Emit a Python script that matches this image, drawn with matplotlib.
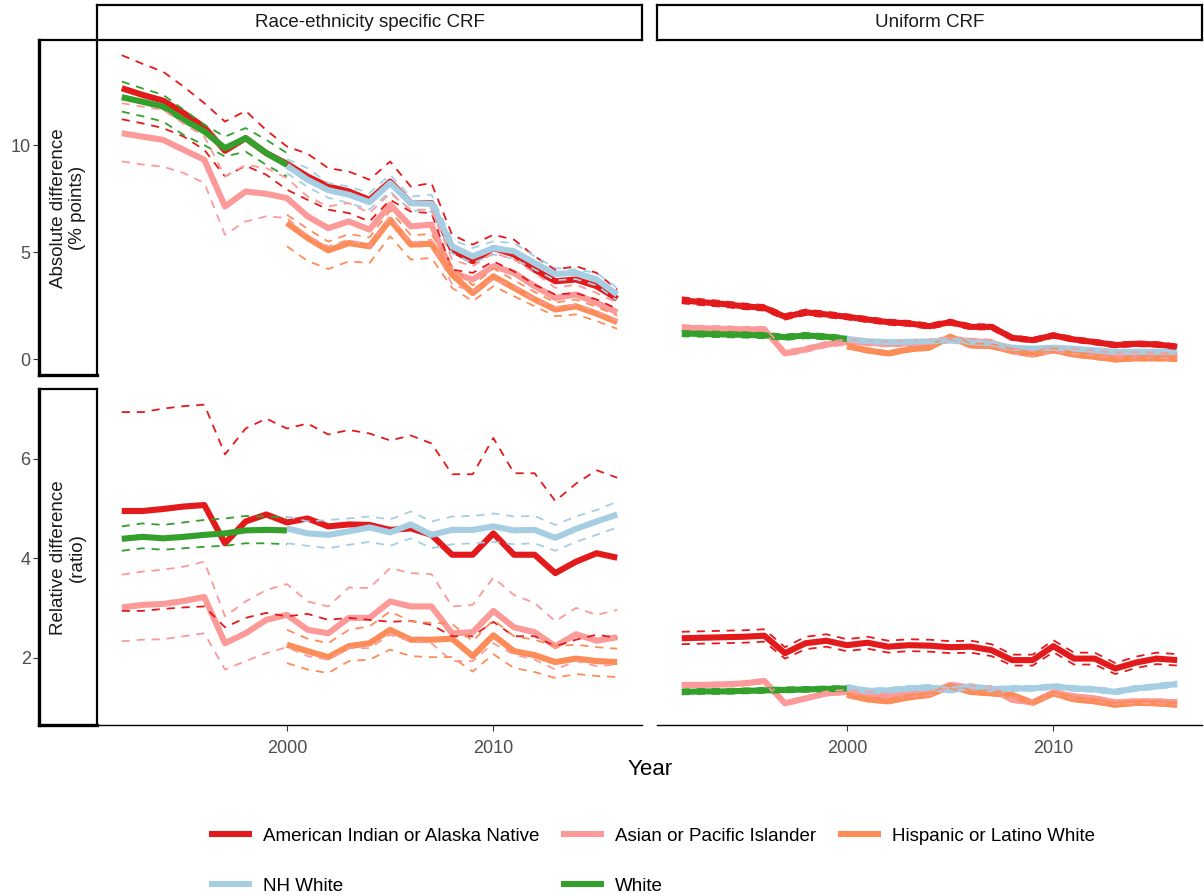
import matplotlib
matplotlib.use("Agg")
import matplotlib.pyplot as plt
from matplotlib.lines import Line2D

plt.rcParams['font.family'] = ['Liberation Sans', 'DejaVu Sans']

# ---------------- data ----------------
years = list(range(1992, 2017))
years_from_2000 = list(range(2000, 2017))
years_to_2000 = list(range(1992, 2001))

groups = ["American Indian or Alaska Native", "Asian or Pacific Islander",
          "Hispanic or Latino White", "NH White", "White"]
colors = ["#E31A1C", "#FB9A99", "#FC8D59", "#A6CEE3", "#33A02C"]
group_years = [years, years, years_from_2000, years_from_2000, years_to_2000]

col_titles = ["Race-ethnicity specific CRF", "Uniform CRF"]
row_titles = ["Absolute difference\n(% points)", "Relative difference\n(ratio)"]
x_ticks = [2000, 2010]
y_ticks_abs = [0, 5, 10]
y_ticks_rel = [2, 4, 6]

# Absolute difference, race-ethnicity specific CRF
aian_abs_rs = [12.66, 12.35, 12.08, 11.5, 10.84, 9.74, 10.33, 9.63, 9.13, 8.54, 8.07, 7.84, 7.45, 8.3, 7.3, 7.3, 5.12, 4.58, 5.2, 4.9, 4.19, 3.65, 3.73, 3.42, 2.83]
aian_abs_rs_hi = [14.2, 13.8, 13.43, 12.73, 11.96, 11.1, 11.6, 10.7, 9.94, 9.6, 8.93, 8.77, 8.39, 9.24, 8.07, 8.23, 5.82, 5.36, 5.82, 5.59, 4.81, 4.19, 4.35, 4.04, 3.26]
aian_abs_rs_lo = [11.21, 11.02, 10.8, 10.4, 9.78, 8.54, 9.04, 8.62, 7.92, 7.45, 6.99, 6.83, 6.44, 7.45, 6.9, 6.83, 4.19, 4.04, 4.58, 4.11, 3.49, 3.03, 3.1, 2.8, 2.36]
api_abs_rs = [10.56, 10.4, 10.25, 9.78, 9.32, 7.14, 7.84, 7.73, 7.53, 6.68, 6.13, 6.44, 6.06, 7.22, 6.21, 6.29, 4.04, 3.73, 4.35, 4.04, 3.42, 2.87, 3.03, 2.64, 2.2]
api_abs_rs_hi = [11.96, 11.8, 11.65, 11.0, 10.4, 8.54, 9.08, 8.93, 8.46, 7.6, 7.14, 7.3, 6.83, 7.76, 6.99, 6.99, 4.66, 4.35, 4.97, 4.66, 4.04, 3.34, 3.49, 3.1, 2.64]
api_abs_rs_lo = [9.24, 9.1, 9.0, 8.7, 8.23, 5.82, 6.44, 6.68, 6.6, 5.75, 5.28, 5.59, 5.28, 6.68, 5.43, 5.59, 3.49, 3.18, 3.73, 3.42, 2.8, 2.41, 2.56, 2.25, 1.79]
hisp_abs_rs = [6.37, 5.67, 5.09, 5.43, 5.28, 6.52, 5.36, 5.4, 3.96, 3.1, 3.88, 3.34, 2.8, 2.33, 2.48, 2.14, 1.74]
hisp_abs_rs_hi = [6.75, 6.1, 5.5, 5.85, 5.7, 6.95, 5.8, 5.85, 4.35, 3.45, 4.25, 3.7, 3.15, 2.65, 2.8, 2.45, 2.05]
hisp_abs_rs_lo = [5.28, 4.6, 4.22, 4.58, 4.5, 5.75, 4.66, 4.74, 3.34, 2.72, 3.42, 2.95, 2.48, 2.02, 2.1, 1.79, 1.43]
nhw_abs_rs = [9.04, 8.39, 7.9, 7.69, 7.34, 8.23, 7.3, 7.27, 5.28, 4.81, 5.2, 5.05, 4.5, 3.99, 4.04, 3.73, 3.03]
nhw_abs_rs_hi = [9.35, 8.93, 8.23, 8.07, 7.76, 8.62, 7.6, 7.69, 5.59, 5.2, 5.51, 5.43, 4.81, 4.27, 4.19, 4.04, 3.34]
nhw_abs_rs_lo = [8.7, 8.05, 7.55, 7.3, 7.0, 7.84, 6.95, 6.9, 4.95, 4.5, 4.9, 4.7, 4.2, 3.7, 3.75, 3.45, 2.75]
white_abs_rs = [12.24, 12.03, 11.8, 11.18, 10.64, 9.86, 10.33, 9.63, 9.08]
white_abs_rs_hi = [12.97, 12.65, 12.35, 11.65, 10.95, 10.4, 10.8, 10.25, 9.63]
white_abs_rs_lo = [11.57, 11.35, 11.1, 10.48, 10.0, 9.47, 9.7, 9.08, 8.54]

# Absolute difference, uniform CRF
aian_abs_u = [2.76, 2.67, 2.59, 2.48, 2.41, 1.99, 2.2, 2.1, 1.99, 1.86, 1.74, 1.68, 1.55, 1.74, 1.52, 1.52, 1.01, 0.9, 1.12, 0.93, 0.81, 0.67, 0.73, 0.70, 0.59]
aian_abs_u_hi = [2.90, 2.81, 2.72, 2.61, 2.54, 2.12, 2.33, 2.23, 2.11, 1.98, 1.86, 1.80, 1.67, 1.86, 1.64, 1.64, 1.12, 1.01, 1.23, 1.04, 0.92, 0.78, 0.84, 0.81, 0.70]
aian_abs_u_lo = [2.62, 2.53, 2.46, 2.35, 2.28, 1.86, 2.07, 1.97, 1.87, 1.74, 1.62, 1.56, 1.43, 1.62, 1.40, 1.40, 0.90, 0.79, 1.01, 0.82, 0.70, 0.56, 0.62, 0.59, 0.48]
api_abs_u = [1.48, 1.45, 1.43, 1.40, 1.40, 0.28, 0.47, 0.70, 0.81, 0.78, 0.72, 0.76, 0.80, 0.95, 0.85, 0.80, 0.40, 0.25, 0.50, 0.38, 0.30, 0.20, 0.22, 0.20, 0.15]
api_abs_u_hi = [1.60, 1.57, 1.55, 1.52, 1.52, 0.40, 0.59, 0.82, 0.93, 0.90, 0.84, 0.88, 0.92, 1.07, 0.97, 0.92, 0.52, 0.37, 0.62, 0.50, 0.42, 0.32, 0.34, 0.32, 0.27]
api_abs_u_lo = [1.36, 1.33, 1.31, 1.28, 1.28, 0.16, 0.35, 0.58, 0.69, 0.66, 0.60, 0.64, 0.68, 0.83, 0.73, 0.68, 0.28, 0.13, 0.38, 0.26, 0.18, 0.08, 0.10, 0.08, 0.03]
hisp_abs_u = [0.62, 0.42, 0.28, 0.47, 0.55, 1.06, 0.65, 0.62, 0.39, 0.23, 0.43, 0.23, 0.12, 0.0, 0.05, 0.05, 0.03]
hisp_abs_u_hi = [0.72, 0.52, 0.38, 0.57, 0.65, 1.16, 0.75, 0.72, 0.49, 0.33, 0.53, 0.33, 0.22, 0.10, 0.15, 0.15, 0.13]
hisp_abs_u_lo = [0.52, 0.32, 0.18, 0.37, 0.45, 0.96, 0.55, 0.52, 0.29, 0.13, 0.33, 0.13, 0.02, -0.10, -0.05, -0.05, -0.07]
nhw_abs_u = [0.96, 0.85, 0.81, 0.82, 0.84, 0.88, 0.81, 0.745, 0.55, 0.50, 0.55, 0.50, 0.43, 0.36, 0.36, 0.36, 0.36]
nhw_abs_u_hi = [1.03, 0.92, 0.88, 0.89, 0.91, 0.95, 0.88, 0.81, 0.62, 0.57, 0.62, 0.57, 0.50, 0.43, 0.43, 0.43, 0.43]
nhw_abs_u_lo = [0.89, 0.78, 0.74, 0.75, 0.77, 0.81, 0.74, 0.68, 0.48, 0.43, 0.48, 0.43, 0.36, 0.29, 0.29, 0.29, 0.29]
white_abs_u = [1.21, 1.19, 1.17, 1.15, 1.12, 1.04, 1.12, 1.06, 0.96]
white_abs_u_hi = [1.33, 1.31, 1.29, 1.27, 1.24, 1.16, 1.24, 1.18, 1.08]
white_abs_u_lo = [1.08, 1.06, 1.04, 1.02, 0.99, 0.91, 0.99, 0.93, 0.83]

# Relative difference, race-ethnicity specific CRF
aian_rel_rs = [4.95, 4.95, 4.99, 5.04, 5.07, 4.3, 4.74, 4.88, 4.72, 4.8, 4.64, 4.68, 4.67, 4.57, 4.6, 4.47, 4.07, 4.07, 4.5, 4.07, 4.07, 3.7, 3.93, 4.1, 4.01]
aian_rel_rs_hi = [6.94, 6.94, 7.01, 7.06, 7.09, 6.09, 6.61, 6.81, 6.61, 6.71, 6.49, 6.58, 6.51, 6.37, 6.47, 6.31, 5.69, 5.69, 6.42, 5.71, 5.71, 5.15, 5.5, 5.77, 5.62]
aian_rel_rs_lo = [2.94, 2.94, 2.98, 3.01, 3.03, 2.61, 2.8, 2.9, 2.83, 2.88, 2.76, 2.8, 2.76, 2.72, 2.74, 2.66, 2.43, 2.43, 2.72, 2.43, 2.43, 2.23, 2.36, 2.46, 2.4]
api_rel_rs = [3.01, 3.06, 3.08, 3.14, 3.22, 2.29, 2.49, 2.76, 2.86, 2.56, 2.49, 2.8, 2.8, 3.13, 3.03, 3.03, 2.49, 2.51, 2.94, 2.61, 2.51, 2.23, 2.47, 2.34, 2.41]
api_rel_rs_hi = [3.67, 3.73, 3.77, 3.83, 3.93, 2.83, 3.13, 3.36, 3.48, 3.13, 3.03, 3.41, 3.4, 3.8, 3.7, 3.68, 3.03, 3.06, 3.61, 3.26, 3.1, 2.73, 3.0, 2.86, 2.96]
api_rel_rs_lo = [2.33, 2.36, 2.37, 2.43, 2.49, 1.76, 1.93, 2.09, 2.21, 2.03, 1.96, 2.19, 2.19, 2.46, 2.33, 2.29, 1.93, 1.93, 2.29, 2.06, 1.96, 1.76, 1.93, 1.83, 1.86]
hisp_rel_rs = [2.26, 2.13, 2.01, 2.23, 2.29, 2.56, 2.36, 2.36, 2.38, 2.03, 2.45, 2.13, 2.05, 1.91, 1.98, 1.93, 1.91]
hisp_rel_rs_hi = [2.56, 2.38, 2.29, 2.56, 2.63, 2.93, 2.73, 2.7, 2.68, 2.33, 2.76, 2.43, 2.36, 2.23, 2.26, 2.21, 2.18]
hisp_rel_rs_lo = [1.89, 1.76, 1.69, 1.93, 1.96, 2.16, 2.03, 2.01, 2.01, 1.72, 2.07, 1.79, 1.71, 1.59, 1.67, 1.63, 1.61]
nhw_rel_rs = [4.6, 4.5, 4.47, 4.54, 4.62, 4.52, 4.68, 4.47, 4.57, 4.57, 4.64, 4.56, 4.57, 4.41, 4.59, 4.74, 4.88]
nhw_rel_rs_hi = [4.84, 4.74, 4.77, 4.8, 4.84, 4.78, 4.94, 4.74, 4.84, 4.85, 4.9, 4.84, 4.85, 4.67, 4.84, 4.97, 5.14]
nhw_rel_rs_lo = [4.3, 4.25, 4.2, 4.27, 4.33, 4.25, 4.4, 4.2, 4.28, 4.3, 4.33, 4.28, 4.3, 4.15, 4.33, 4.47, 4.62]
white_rel_rs = [4.39, 4.43, 4.4, 4.43, 4.47, 4.5, 4.56, 4.57, 4.56]
white_rel_rs_hi = [4.64, 4.7, 4.67, 4.72, 4.77, 4.8, 4.85, 4.84, 4.82]
white_rel_rs_lo = [4.15, 4.2, 4.17, 4.2, 4.23, 4.25, 4.3, 4.3, 4.28]

# Relative difference, uniform CRF
aian_rel_u = [2.39, 2.40, 2.41, 2.42, 2.44, 2.09, 2.29, 2.34, 2.25, 2.30, 2.22, 2.25, 2.24, 2.21, 2.22, 2.15, 1.95, 1.95, 2.23, 1.98, 1.98, 1.78, 1.90, 1.98, 1.95]
aian_rel_u_hi = [2.52, 2.53, 2.54, 2.55, 2.57, 2.21, 2.42, 2.47, 2.37, 2.42, 2.34, 2.37, 2.36, 2.33, 2.34, 2.27, 2.06, 2.06, 2.35, 2.10, 2.10, 1.89, 2.02, 2.10, 2.07]
aian_rel_u_lo = [2.27, 2.28, 2.29, 2.30, 2.32, 1.98, 2.17, 2.22, 2.13, 2.18, 2.10, 2.13, 2.12, 2.09, 2.10, 2.03, 1.84, 1.84, 2.11, 1.86, 1.86, 1.67, 1.79, 1.87, 1.84]
api_rel_u = [1.45, 1.45, 1.46, 1.48, 1.53, 1.08, 1.18, 1.28, 1.31, 1.28, 1.22, 1.26, 1.28, 1.45, 1.40, 1.38, 1.15, 1.10, 1.30, 1.22, 1.18, 1.10, 1.12, 1.12, 1.10]
api_rel_u_hi = [1.49, 1.49, 1.50, 1.52, 1.57, 1.12, 1.22, 1.32, 1.35, 1.32, 1.26, 1.30, 1.32, 1.49, 1.44, 1.42, 1.19, 1.14, 1.34, 1.26, 1.22, 1.14, 1.16, 1.16, 1.14]
api_rel_u_lo = [1.41, 1.41, 1.42, 1.44, 1.49, 1.04, 1.14, 1.24, 1.27, 1.24, 1.18, 1.22, 1.24, 1.41, 1.36, 1.34, 1.11, 1.06, 1.26, 1.18, 1.14, 1.06, 1.08, 1.08, 1.06]
hisp_rel_u = [1.25, 1.16, 1.12, 1.20, 1.25, 1.42, 1.31, 1.28, 1.25, 1.09, 1.28, 1.16, 1.12, 1.05, 1.09, 1.08, 1.05]
hisp_rel_u_hi = [1.29, 1.20, 1.16, 1.24, 1.29, 1.46, 1.35, 1.32, 1.29, 1.13, 1.32, 1.20, 1.16, 1.09, 1.13, 1.12, 1.09]
hisp_rel_u_lo = [1.21, 1.12, 1.08, 1.16, 1.21, 1.38, 1.27, 1.24, 1.21, 1.05, 1.24, 1.12, 1.08, 1.01, 1.05, 1.04, 1.01]
nhw_rel_u = [1.40, 1.33, 1.34, 1.38, 1.40, 1.34, 1.42, 1.36, 1.38, 1.38, 1.42, 1.38, 1.36, 1.31, 1.38, 1.42, 1.47]
nhw_rel_u_hi = [1.45, 1.38, 1.39, 1.43, 1.45, 1.39, 1.47, 1.41, 1.43, 1.43, 1.47, 1.43, 1.41, 1.36, 1.43, 1.47, 1.52]
nhw_rel_u_lo = [1.35, 1.28, 1.29, 1.33, 1.35, 1.29, 1.37, 1.31, 1.33, 1.33, 1.37, 1.33, 1.31, 1.26, 1.33, 1.37, 1.42]
white_rel_u = [1.31, 1.32, 1.32, 1.33, 1.34, 1.35, 1.36, 1.37, 1.38]
white_rel_u_hi = [1.36, 1.37, 1.37, 1.38, 1.39, 1.40, 1.41, 1.42, 1.43]
white_rel_u_lo = [1.26, 1.27, 1.27, 1.28, 1.29, 1.30, 1.31, 1.32, 1.33]

panels = [
    [  # row 0: absolute
        [(aian_abs_rs, aian_abs_rs_lo, aian_abs_rs_hi), (api_abs_rs, api_abs_rs_lo, api_abs_rs_hi),
         (hisp_abs_rs, hisp_abs_rs_lo, hisp_abs_rs_hi), (nhw_abs_rs, nhw_abs_rs_lo, nhw_abs_rs_hi),
         (white_abs_rs, white_abs_rs_lo, white_abs_rs_hi)],
        [(aian_abs_u, aian_abs_u_lo, aian_abs_u_hi), (api_abs_u, api_abs_u_lo, api_abs_u_hi),
         (hisp_abs_u, hisp_abs_u_lo, hisp_abs_u_hi), (nhw_abs_u, nhw_abs_u_lo, nhw_abs_u_hi),
         (white_abs_u, white_abs_u_lo, white_abs_u_hi)],
    ],
    [  # row 1: relative
        [(aian_rel_rs, aian_rel_rs_lo, aian_rel_rs_hi), (api_rel_rs, api_rel_rs_lo, api_rel_rs_hi),
         (hisp_rel_rs, hisp_rel_rs_lo, hisp_rel_rs_hi), (nhw_rel_rs, nhw_rel_rs_lo, nhw_rel_rs_hi),
         (white_rel_rs, white_rel_rs_lo, white_rel_rs_hi)],
        [(aian_rel_u, aian_rel_u_lo, aian_rel_u_hi), (api_rel_u, api_rel_u_lo, api_rel_u_hi),
         (hisp_rel_u, hisp_rel_u_lo, hisp_rel_u_hi), (nhw_rel_u, nhw_rel_u_lo, nhw_rel_u_hi),
         (white_rel_u, white_rel_u_lo, white_rel_u_hi)],
    ],
]

# ---------------- layout ----------------
W, H = 1204, 896
fig = plt.figure(figsize=(W / 100, H / 100), dpi=100)
fig.patch.set_facecolor("white")


def px_axes(x0, y0, x1, y1):
    return fig.add_axes([x0 / W, 1 - y1 / H, (x1 - x0) / W, (y1 - y0) / H])


col_px = [(97, 642), (657, 1202)]
row_px = [(40, 375.5), (389.5, 725)]
row_ylim = [(-0.75, 14.91), (0.644, 7.395)]
row_yticks = [y_ticks_abs, y_ticks_rel]
xlim = (1990.8, 2017.2)

TICK_COL = "#333333"
LAB_COL = "#4D4D4D"
FS_TICK = 13
FS_STRIP = 13.5

SOLID_LW = 4.4
DASH_LW = 1.3

for r in range(2):
    for c in range(2):
        x0, x1 = col_px[c]
        y0, y1 = row_px[r]
        ax = px_axes(x0, y0, x1, y1)
        ax.set_xlim(*xlim)
        ax.set_ylim(*row_ylim[r])
        series = panels[r][c]
        for g in range(5):
            est = series[g][0]
            ax.plot(group_years[g], est, color=colors[g], lw=SOLID_LW,
                    solid_capstyle="butt", solid_joinstyle="round", zorder=2)
        for k in (1, 2):
            for g in range(5):
                ax.plot(group_years[g], series[g][k], color=colors[g], lw=DASH_LW,
                        linestyle=(0, (4.5, 3.8)), dash_capstyle="butt", zorder=3)
        for s in ax.spines.values():
            s.set_visible(False)
        ax.set_yticks([])
        if r == 1:
            ax.spines["bottom"].set_visible(True)
            ax.spines["bottom"].set_color("black")
            ax.spines["bottom"].set_linewidth(1.0)
            ax.set_xticks(x_ticks)
            ax.set_xticklabels([str(t) for t in x_ticks])
            ax.tick_params(axis="x", length=4, width=0.8, color=TICK_COL,
                           labelsize=FS_TICK, labelcolor=LAB_COL, pad=7)
        else:
            ax.set_xticks([])
        ax.patch.set_alpha(0)

    # left (row) strip with y axis
    y0, y1 = row_px[r]
    sax = px_axes(39, y0, 97, y1)
    sax.set_xlim(0, 1)
    sax.set_ylim(*row_ylim[r])
    sax.set_xticks([])
    sax.set_yticks(row_yticks[r])
    sax.set_yticklabels([str(t) for t in row_yticks[r]])
    sax.tick_params(axis="y", length=4, width=0.8, color=TICK_COL,
                    labelsize=FS_TICK, labelcolor=LAB_COL, pad=2)
    for s in sax.spines.values():
        s.set_color("black")
        s.set_linewidth(1.6)
    sax.spines["left"].set_linewidth(2.4)
    sax.spines["bottom"].set_linewidth(2.4)
    sax.text(0.5, 0.5, row_titles[r], rotation=90, ha="center", va="center",
             fontsize=FS_STRIP, color="#1A1A1A", transform=sax.transAxes,
             linespacing=1.2)

# top (column) strips
for c in range(2):
    x0, x1 = col_px[c]
    tax = px_axes(x0, 5, x1, 40)
    tax.set_xticks([])
    tax.set_yticks([])
    for s in tax.spines.values():
        s.set_color("black")
        s.set_linewidth(1.6)
    tax.text(0.5, 0.5, col_titles[c], ha="center", va="center",
             fontsize=FS_STRIP, color="#1A1A1A", transform=tax.transAxes)

fig.text(650 / W, 1 - 769 / H, "Year", ha="center", va="center", fontsize=16, color="black")

# legend (row-wise order like ggplot)
order = [0, 3, 1, 4, 2]
handles = [Line2D([], [], color=colors[i], lw=SOLID_LW, solid_capstyle="butt") for i in order]
labels = [groups[i] for i in order]
fig.legend(handles, labels, loc="center", bbox_to_anchor=(652 / W, 1 - 861 / H),
           ncol=3, frameon=False, fontsize=FS_STRIP, handlelength=2.3,
           handletextpad=0.6, columnspacing=1.15, labelspacing=1.75)

fig.savefig("out.png", dpi=100, facecolor="white")
